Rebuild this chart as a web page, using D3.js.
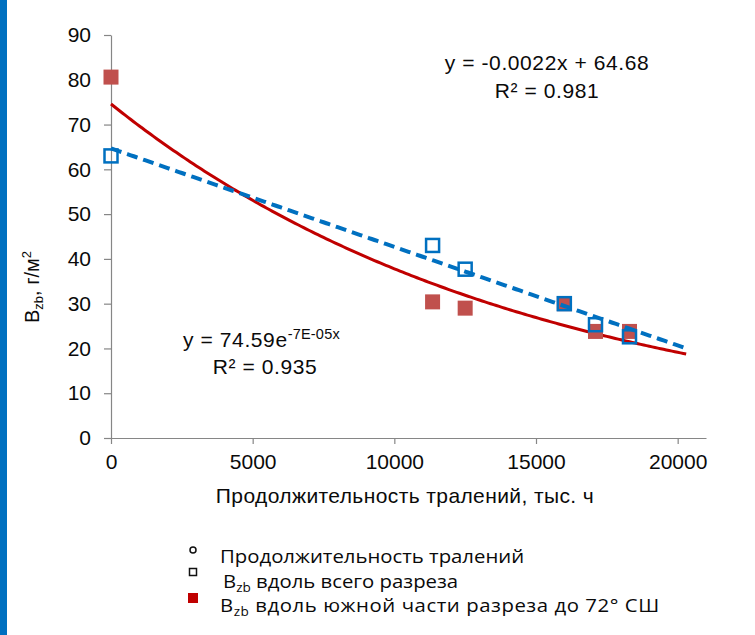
<!DOCTYPE html>
<html>
<head>
<meta charset="utf-8">
<script src="https://cdn.jsdelivr.net/npm/d3@7"></script>
<style>
  html, body { margin: 0; padding: 0; background: #fff; }
  svg { display: block; }
</style>
</head>
<body>
<svg id="chart" width="755" height="635"></svg>
<script>
// Trawling duration (hours) per station group
const trawlHours = [0, 11350, 12500, 16000, 17100, 18300];
// Bzb along the whole section, g/m2
const bzbWhole = [63, 43, 37.7, 30, 25.3, 22.6];
// Bzb along the southern part of the section (to 72° N), g/m2
const bzbSouth = [80.6, 30.4, 29, 30, 23.8, 23.8];

// Trend lines
const linSlope = -0.0022, linIntercept = 64.68, linR2 = 0.981;
const expA = 74.59, expK = -6.8e-5, expR2 = 0.935;
const trendEnd = 20300;

const xTicks = [0, 5000, 10000, 15000, 20000];
const yTicks = [0, 10, 20, 30, 40, 50, 60, 70, 80, 90];

const svg = d3.select("#chart");
const blue = "#0070C0", redLine = "#C00000", redMark = "#C0504D", axisGrey = "#868686";
const font = "'Liberation Sans', Arial, sans-serif";
const ink = "#0a0a0a";

// side accent bar
svg.append("rect").attr("x", 0).attr("y", 0).attr("width", 7).attr("height", 635).attr("fill", "#0070C0");

const x = d3.scaleLinear().domain([0, 21000]).range([111, 706]);
const y = d3.scaleLinear().domain([0, 90]).range([438, 35]);

// Y axis
const yAxis = svg.append("g").attr("transform", `translate(${x(0)},0)`)
  .call(d3.axisLeft(y).tickValues(yTicks).tickSize(7).tickPadding(13).tickSizeOuter(0));
// X axis
const xAxis = svg.append("g").attr("transform", `translate(0,${y(0)})`)
  .call(d3.axisBottom(x).tickValues(xTicks).tickFormat(d3.format("d"))
    .tickSize(6).tickPadding(10).tickSizeOuter(0));

[yAxis, xAxis].forEach(g => {
  g.select(".domain").attr("stroke", axisGrey).attr("stroke-width", 1.2);
  g.selectAll(".tick line").attr("stroke", axisGrey).attr("stroke-width", 1.2);
  g.selectAll(".tick text").attr("fill", ink)
    .style("font-family", font).style("font-size", "21px");
});

// Trend lines
const linPts = d3.range(0, trendEnd + 1, 100).map(v => [v, linIntercept + linSlope * v]);
const expPts = d3.range(0, trendEnd + 1, 100).map(v => [v, expA * Math.exp(expK * v)]);
const line = d3.line().x(d => x(d[0])).y(d => y(d[1]));

svg.append("path").attr("d", line(expPts)).attr("fill", "none")
  .attr("stroke", redLine).attr("stroke-width", 3);

// Markers
const sq = 13;
svg.append("g").selectAll("rect").data(trawlHours.map((h, i) => [h, bzbSouth[i]])).join("rect")
  .attr("x", d => x(d[0]) - 7.5).attr("y", d => y(d[1]) - 7.5)
  .attr("width", 15).attr("height", 15).attr("fill", redMark);

svg.append("g").selectAll("rect").data(trawlHours.map((h, i) => [h, bzbWhole[i]])).join("rect")
  .attr("x", d => x(d[0]) - sq / 2).attr("y", d => y(d[1]) - sq / 2)
  .attr("width", sq).attr("height", sq).attr("fill", "none")
  .attr("stroke", blue).attr("stroke-width", 2.5);

svg.append("path").attr("d", line(linPts)).attr("fill", "none")
  .attr("stroke", blue).attr("stroke-width", 4).attr("stroke-dasharray", "11,6");

// Equations
const fmt2 = d3.format(".2f"), fmt3 = d3.format(".3f");
const eqStyle = sel => sel.style("font-family", font).style("font-size", "21px")
  .style("letter-spacing", "0.6px").attr("fill", ink);

svg.append("text").attr("x", 547).attr("y", 70).attr("text-anchor", "middle")
  .call(eqStyle).text(`y = ${linSlope}x + ${fmt2(linIntercept)}`);
svg.append("text").attr("x", 547).attr("y", 98).attr("text-anchor", "middle")
  .call(eqStyle).text(`R² = ${fmt3(linR2)}`);

const expExp = expK.toExponential(0).replace("e", "E").replace(/E([+-])(\d)$/, "E$10$2");
const e1 = svg.append("text").attr("x", 183).attr("y", 347).call(eqStyle);
e1.append("tspan").text(`y = ${fmt2(expA)}e`);
e1.append("tspan").attr("dy", -8).style("font-size", "14.5px").style("letter-spacing", "0.2px")
  .text(`${expExp}x`);
svg.append("text").attr("x", 265).attr("y", 374).attr("text-anchor", "middle")
  .call(eqStyle).text(`R² = ${fmt3(expR2)}`);

// Axis titles
svg.append("text").attr("x", 405).attr("y", 503).attr("text-anchor", "middle")
  .style("font-family", font).style("font-size", "21px").style("letter-spacing", "0.4px")
  .attr("fill", ink).text("Продолжительность тралений, тыс. ч");

const yt = svg.append("text").attr("transform", "translate(39,287) rotate(-90)")
  .attr("text-anchor", "middle").style("font-family", font).style("font-size", "20px").attr("fill", ink);
yt.append("tspan").text("B");
yt.append("tspan").attr("dy", 4).style("font-size", "13px").text("zb");
yt.append("tspan").attr("dy", -4).text(", г/м");
yt.append("tspan").attr("dy", -8).style("font-size", "13px").text("2");

// Legend
const lfont = "'Open Sans', 'Noto Sans', sans-serif";
const leg = svg.append("g");
leg.append("circle").attr("cx", 193).attr("cy", 550).attr("r", 3)
  .attr("fill", "none").attr("stroke", "#111").attr("stroke-width", 1.5);
leg.append("rect").attr("x", 189.5).attr("y", 568.5).attr("width", 7).attr("height", 7)
  .attr("fill", "none").attr("stroke", "#111").attr("stroke-width", 1.5);
leg.append("rect").attr("x", 188).attr("y", 593).attr("width", 10).attr("height", 10)
  .attr("fill", "#C00000");

// legend labels, drawn slightly widened
const stretch = 1.13;
const lStyle = sel => sel.style("font-family", lfont).style("font-size", "18px").attr("fill", ink);
const row = (tx, ty) => leg.append("g").attr("transform", `translate(${tx},${ty}) scale(${stretch},1)`);

row(220, 563).append("text").call(lStyle).text("Продолжительность тралений");

const l2 = row(223, 588).append("text").call(lStyle);
l2.append("tspan").text("B");
l2.append("tspan").attr("dy", 4).style("font-size", "12px").text("zb");
l2.append("tspan").attr("dy", -4).text(" вдоль всего разреза");

const l3 = row(220, 612).append("text").call(lStyle).style("letter-spacing", "0.5px");
l3.append("tspan").text("B");
l3.append("tspan").attr("dy", 4).style("font-size", "12px").text("zb");
l3.append("tspan").attr("dy", -4).text(" вдоль южной части разреза до 72° СШ");
</script>
</body>
</html>
